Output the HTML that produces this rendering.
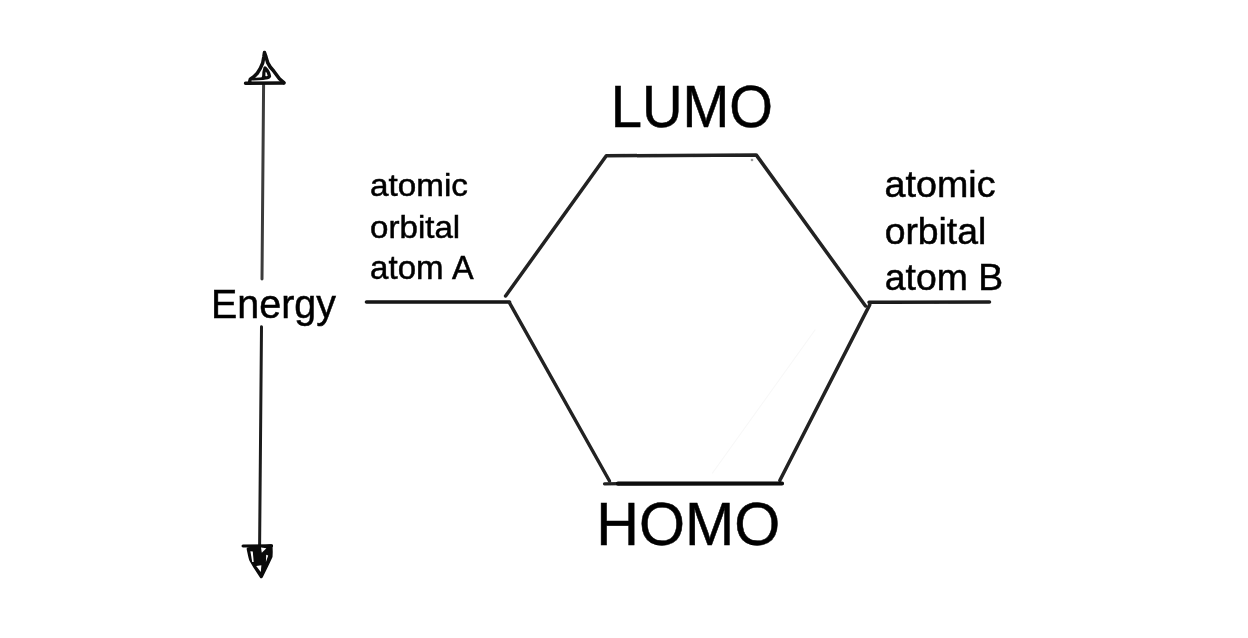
<!DOCTYPE html>
<html><head><meta charset="utf-8">
<style>
html,body{margin:0;padding:0;background:#fff;width:1248px;height:638px;overflow:hidden}
svg{display:block;will-change:transform}
text{font-family:"Liberation Sans",sans-serif;fill:#000;stroke:#000;stroke-width:0.5px}
</style></head>
<body>
<svg width="1248" height="638" viewBox="0 0 1248 638">
<defs><filter id="soft" x="-5%" y="-5%" width="110%" height="110%"><feGaussianBlur stdDeviation="0.45"/></filter></defs>
<g class="shapes" fill="none" stroke="#222" stroke-width="3" stroke-linecap="round" stroke-linejoin="round">
<!-- energy arrow shaft -->
<path d="M263.6 84 L262 279" stroke="#3c3c3c"/>
<path d="M261.5 326.8 L259.6 546" stroke="#1c1c1c"/>
<!-- top arrowhead -->
<g stroke="#0e0e0e">
<path d="M245.5 83.3 L284 83" stroke-width="3.4"/>
<path d="M249.6 82 L250.3 79.2 L253.8 76.8 L257.3 73.2 L260.3 68.4 L262.7 63 L263.8 57 L264.5 52.6 L266 56.9 L267.8 62.9 L270.2 67 L273.8 71.2 L279.4 78.8 L283.8 82.6" stroke-width="3.5"/>
<path d="M265 68 C264.1 70.4 263.6 74 263.7 77.6 C266 78 268.9 77.6 269.5 76.2 C269.1 73.5 267.1 70 265 68 Z" stroke-width="3.3"/>
<path d="M252.9 79.2 L263 78.6" stroke-width="2.6"/>
<circle cx="263.8" cy="77.6" r="2.2" fill="#0e0e0e" stroke="none"/>
</g>
<!-- bottom arrowhead -->
<g stroke="#0a0a0a">
<path d="M243 546 L271.6 545.7" stroke-width="3"/>
<path d="M248.3 548.8 C249.4 554 250 558 251.2 560.5 L254.8 566.6 L261.3 576.6 L267.4 564 L270.9 556.5 C271.2 553 271.1 549 270.9 545.8 Z" stroke-width="3.3" fill="#0a0a0a"/>
<g fill="#fff" stroke="none">
<path d="M250.4 551.2 L252.8 551.4 L253.7 562 L252.2 562 Z"/>
<path d="M261 547.6 L266.4 548.2 L261.8 552.8 Z"/>
<path d="M266.2 554.8 L268.2 555.6 L265.9 562 Z"/>
<path d="M256.2 566 L261.4 565.2 L260.8 572 Z"/>
</g>
</g>
<!-- faint artifacts -->
<path d="M815 330 L712.5 473" stroke="#f8f8f8" stroke-width="1.2"/>
<circle cx="752" cy="160" r="1.3" fill="#999" stroke="none" filter="url(#soft)"/>
<!-- orbital lines -->
<g filter="url(#soft)">
<path d="M366.5 302 L509.5 302" stroke="#151515" stroke-width="3.6"/>
<path d="M505.6 296 L606.3 155.8 L756.2 154.9 L865.5 306" stroke-width="3.5"/>
<path d="M989.5 302 L869 302.2" stroke="#1c1c1c" stroke-width="3.5"/>
<path d="M869.8 304.6 L779.8 480.5" stroke-width="3.5"/>
<path d="M604.5 483.8 L620 483.7" stroke-width="3.2"/>
<path d="M618 483.7 L782 483.5" stroke="#080808" stroke-width="4.2"/>
<path d="M609.5 481 L509.4 302.6" stroke-width="3.4"/>
</g>
</g>
<text transform="translate(211.04,317.70) scale(0.9494,1)" font-size="41.5">Energy</text>
<text transform="translate(369.99,196.20) scale(1.0332,1)" font-size="32.2">atomic</text>
<text transform="translate(370.11,237.70) scale(1.0274,1)" font-size="32.2">orbital</text>
<text transform="translate(370.10,278.50) scale(1.0139,1)" font-size="32.6">atom</text>
<text transform="translate(452.04,278.50) scale(0.9946,1)" font-size="32.6">A</text>
<text transform="translate(884.60,196.80) scale(1.0401,1)" font-size="36.2">atomic</text>
<text transform="translate(884.63,243.50) scale(1.0311,1)" font-size="36.2">orbital</text>
<text transform="translate(884.86,290.40) scale(1.0093,1)" font-size="37.0">atom B</text>
<text transform="translate(610.64,126.80) scale(0.9638,1)" font-size="58.3">LUMO</text>
<text transform="translate(596.35,544.60) scale(0.9622,1)" font-size="61.5">HOMO</text>
</svg>
</body></html>
